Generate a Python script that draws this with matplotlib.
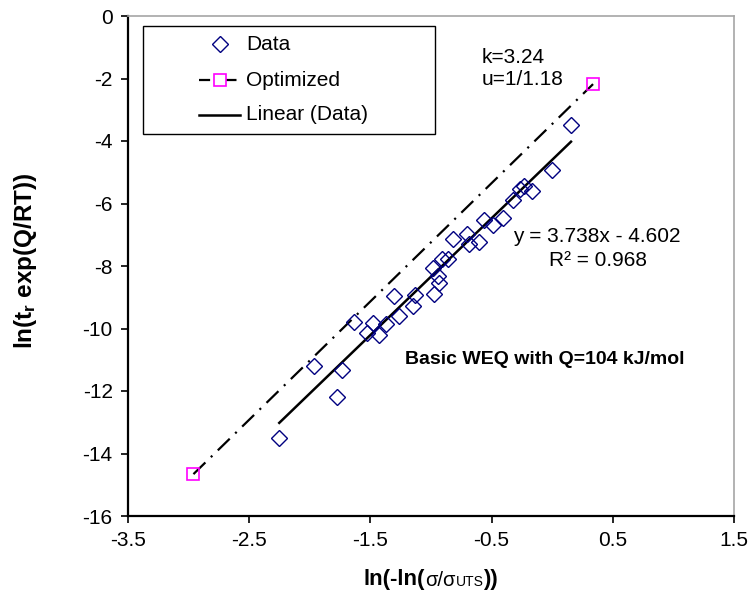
import matplotlib
matplotlib.use('Agg')
import numpy as np
import matplotlib.pyplot as plt
from matplotlib.patches import Rectangle
from matplotlib.offsetbox import TextArea, HPacker, AnchoredOffsetbox

plt.rcParams['font.family'] = ['Liberation Sans', 'DejaVu Sans']
plt.rcParams['mathtext.fontset'] = 'custom'
plt.rcParams['mathtext.rm'] = 'Liberation Sans'
plt.rcParams['mathtext.it'] = 'Liberation Sans:italic'
plt.rcParams['mathtext.bf'] = 'Liberation Sans:bold'
plt.rcParams['lines.scale_dashes'] = False

# Data
data_x = [-2.252, -1.963, -1.773, -1.734, -1.633, -1.531, -1.482, -1.426, -1.371,
          -1.305, -1.262, -1.146, -1.132, -0.973, -0.981, -0.940, -0.930, -0.912,
          -0.857, -0.822, -0.700, -0.684, -0.604, -0.560, -0.486, -0.409, -0.321,
          -0.266, -0.233, -0.170, -0.004, 0.155]
data_y = [-13.50, -11.21, -12.19, -11.34, -9.80, -10.15, -9.83, -10.21, -9.87,
          -8.96, -9.59, -9.28, -8.93, -8.90, -8.07, -8.32, -8.53, -7.79,
          -7.79, -7.14, -6.98, -7.31, -7.24, -6.53, -6.69, -6.47, -5.89,
          -5.55, -5.44, -5.59, -4.93, -3.49]

opt_x = [-2.96, 0.337]
opt_y = [-14.66, -2.18]

slope = 3.738
intercept = -4.602

legend_labels = ['Data', 'Optimized', 'Linear (Data)']

W, H = 756, 614
fig = plt.figure(figsize=(W / 100, H / 100), dpi=100)
ax = fig.add_axes([128 / W, 1 - 516 / H, 606 / W, 500 / H])


def px(x, y):
    # figure pixel -> axes fraction (for layout only)
    return (x - 128) / 606, (516 - y) / 500


dashdot = (12, 5.5, 1.5, 5.5)
data_style = dict(linestyle='none', marker='D', ms=8, mfc='none', mec='#000080', mew=1)
opt_marker = dict(marker='s', ms=8, mec='#ff00ff', mew=1.2)

# linear trendline over the data range
fit_x = np.array([min(data_x), max(data_x)])
fit_y = slope * fit_x + intercept

ax.plot(data_x, data_y, zorder=3, **data_style)
ax.plot(opt_x, opt_y, color='black', lw=1.6, dashes=dashdot, mfc='none',
        zorder=2, **opt_marker)
ax.plot(fit_x, fit_y, color='black', lw=1.8, zorder=2)

ax.set_xlim(-3.5, 1.5)
ax.set_ylim(-16, 0)
ax.set_xticks([-3.5, -2.5, -1.5, -0.5, 0.5, 1.5])
ax.set_xticklabels(['-3.5', '-2.5', '-1.5', '-0.5', '0.5', '1.5'])
ax.set_yticks(np.arange(-16, 1, 2))
ax.set_yticklabels([str(v) for v in range(-16, 1, 2)])
ax.tick_params(direction='out', length=5, width=1.2, labelsize=15, pad=6,
               top=False, right=False)

for s in ['left', 'bottom']:
    ax.spines[s].set_color('black')
    ax.spines[s].set_linewidth(1.6)
for s in ['top', 'right']:
    ax.spines[s].set_color('#a6a6a6')
    ax.spines[s].set_linewidth(1.2)

# x label: bold text with a smaller, regular sigma part
parts = [TextArea('ln(-ln(', textprops=dict(fontsize=16, fontweight='bold')),
         TextArea('σ/σ', textprops=dict(fontsize=14.5)),
         TextArea('UTS', textprops=dict(fontsize=10)),
         TextArea('))', textprops=dict(fontsize=16, fontweight='bold'))]
xlab = HPacker(children=parts, align='baseline', pad=0, sep=0)
ax.add_artist(AnchoredOffsetbox(loc='center', child=xlab, frameon=False, pad=0,
                                borderpad=0, bbox_to_anchor=px(431, 580),
                                bbox_transform=ax.transAxes))

ax.set_ylabel(r'ln(t$_{\mathbf{r}}$ exp(Q/RT))', fontsize=17.5, fontweight='bold')
ax.yaxis.set_label_coords((39 - 128) / 606, 0.51)

ax.text(-0.579, -1.68, 'k=3.24\nu=1/1.18', fontsize=15, va='center',
        ha='left', linespacing=1.25)
ax.text(-0.323, -7.04, 'y = 3.738x - 4.602', fontsize=15, va='center', ha='left')
ax.text(-0.026, -7.81, 'R² = 0.968', fontsize=15, va='center', ha='left')
ax.text(-1.214, -10.98, 'Basic WEQ with Q=104 kJ/mol', fontsize=14,
        fontweight='bold', va='center', ha='left')

# legend box drawn by hand to match the spacing of the original
x0, y0 = px(143, 134)
x1, y1 = px(435, 26)
ax.add_patch(Rectangle((x0, y0), x1 - x0, y1 - y0, transform=ax.transAxes,
                       facecolor='white', edgecolor='black', lw=1.0, zorder=5,
                       clip_on=False))
rows = [44, 80, 115]
hx0, hx1 = px(199, 0)[0], px(240, 0)[0]
hm = px(220, 0)[0]
ty = [px(0, r)[1] for r in rows]
ax.plot([hm], [ty[0]], transform=ax.transAxes, zorder=6, clip_on=False, **data_style)
ax.plot([hx0, hx1], [ty[1], ty[1]], transform=ax.transAxes, color='black',
        lw=1.6, dashes=(8, 4, 3, 4), zorder=6, clip_on=False)
ax.plot([hm], [ty[1]], transform=ax.transAxes, zorder=7, clip_on=False,
        linestyle='none', mfc='white', **opt_marker)
ax.plot([hx0, hx1], [ty[2], ty[2]], transform=ax.transAxes, color='black',
        lw=1.8, zorder=6, clip_on=False)
tx = px(246, 0)[0]
for lab, yy in zip(legend_labels, ty):
    ax.text(tx, yy, lab, transform=ax.transAxes, fontsize=15, va='center',
            ha='left', zorder=7)

fig.savefig('out.png', dpi=100)
